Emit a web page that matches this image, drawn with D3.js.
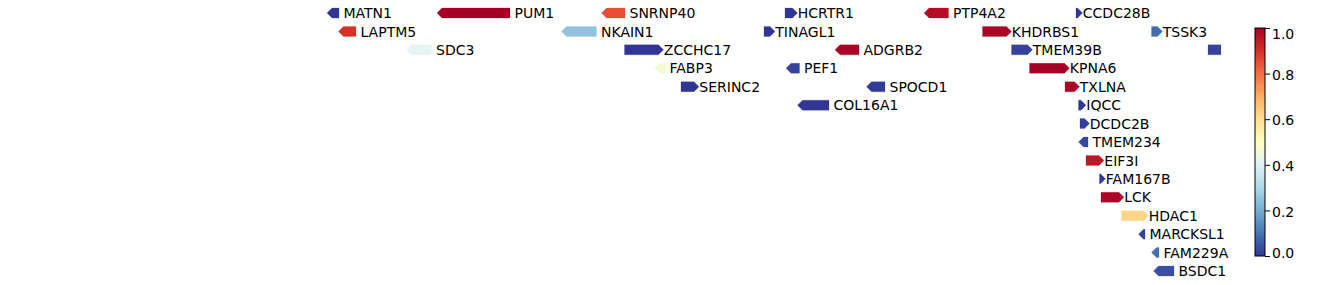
<!DOCTYPE html>
<html>
<head>
<meta charset="utf-8">
<script src="https://cdn.jsdelivr.net/npm/d3@7"></script>
<style>
  html, body { margin: 0; padding: 0; background: #fff; }
  svg { display: block; }
  text { font-family: "DejaVu Sans", sans-serif; }
</style>
</head>
<body>
<svg id="chart" width="1338" height="285"></svg>
<script>
// ---- data (genomic position in kb) ----
const geneNames = ["MATN1","PUM1","SNRNP40","HCRTR1","PTP4A2","CCDC28B",
  "LAPTM5","NKAIN1","TINAGL1","KHDRBS1","TSSK3",
  "SDC3","ZCCHC17","ADGRB2","TMEM39B","",
  "FABP3","PEF1","KPNA6",
  "SERINC2","SPOCD1","TXLNA",
  "COL16A1","IQCC",
  "DCDC2B","TMEM234","EIF3I","FAM167B","LCK","HDAC1","MARCKSL1","FAM229A","BSDC1"];
const geneStart = [31180,31400,31729,32096,32374,32678,
  31203,31649,32054,32491,32829,
  31339,31775,32196,32549,32942,
  31835,32098,32585,
  31888,32259,32656,
  32121,32683,
  32686,32683,32698,32725,32728,32769,32803,32829,32833];
const geneEnd = [31204,31546,31776,32121,32423,32691,
  31238,31719,32076,32549,32851,
  31389,31853,32244,32591,32982,
  31856,32125,32665,
  31924,32296,32685,
  32184,32698,
  32705,32702,32734,32737,32774,32823,32816,32844,32874];
const geneStrand = ["-","-","-","+","-","+",
  "-","-","+","+","+",
  "-","+","-","+","+",
  "-","-","+",
  "+","-","+",
  "-","+",
  "+","-","+","+","+","+","-","-","-"];
const geneRow = [0,0,0,0,0,0,
  1,1,1,1,1,
  2,2,2,2,2,
  3,3,3,
  4,4,4,
  5,5,
  6,7,8,9,10,11,12,13,14];
const geneValue = [0.0,1.0,0.85,0.0,0.97,0.0,
  0.9,0.25,0.0,0.99,0.085,
  0.41,0.0,0.99,0.02,0.02,
  0.46,0.02,1.0,
  0.0,0.01,0.99,
  0.0,0.0,
  0.01,0.03,0.95,0.0,0.99,0.62,0.02,0.09,0.04];
const colorbarTicks = [0.0,0.2,0.4,0.6,0.8,1.0];

// ---- colormap (RdYlBu reversed, matplotlib stops) ----
const cmapStops = ["#313695","#4575b4","#74add1","#abd9e9","#e0f3f8","#ffffbf",
  "#fee090","#fdae61","#f46d43","#d73027","#a50026"];
const color = d3.scaleLinear()
  .domain(d3.range(cmapStops.length).map(i => i / (cmapStops.length - 1)))
  .range(cmapStops)
  .interpolate(d3.interpolateRgb)
  .clamp(true);

const svg = d3.select("#chart");
const x = d3.scaleLinear().domain([31180, 32968]).range([327, 1221]);
const y = d3.scaleLinear().domain([0, 14]).range([13, 271]);
const H = 10, HEAD = 5, FS = 14;

svg.append("defs").append("clipPath").attr("id", "axclip")
  .append("rect").attr("x", 0).attr("y", 0).attr("width", 1221).attr("height", 285);

const genes = geneNames.map((n, i) => ({
  name: n, start: geneStart[i], end: geneEnd[i], strand: geneStrand[i],
  row: geneRow[i], value: geneValue[i]
}));

const g = svg.append("g").attr("clip-path", "url(#axclip)");

function arrowPath(d) {
  const x0 = x(d.start), x1 = x(d.end), yc = y(d.row);
  const hl = Math.min(HEAD, x1 - x0);
  const t = yc - H / 2, b = yc + H / 2;
  let pts;
  if (d.strand === "+") {
    pts = [[x0, t], [x1 - hl, t], [x1, yc], [x1 - hl, b], [x0, b]];
  } else {
    pts = [[x1, t], [x0 + hl, t], [x0, yc], [x0 + hl, b], [x1, b]];
  }
  return "M" + pts.map(p => p.join(",")).join("L") + "Z";
}

g.selectAll("path.gene").data(genes).join("path")
  .attr("class", "gene")
  .attr("d", arrowPath)
  .attr("fill", d => color(d.value))
  .attr("stroke", d => color(d.value))
  .attr("stroke-opacity", 0.4)
  .attr("stroke-width", 0.6);

svg.append("g").selectAll("text.lab").data(genes.filter(d => d.name)).join("text")
  .attr("class", "lab")
  .attr("x", d => x(d.end) + (d.strand === "+" ? 0.3 : 4.5))
  .attr("y", d => y(d.row) + 5.1)
  .attr("font-size", FS)
  .attr("fill", "#000")
  .text(d => d.name);

// ---- colorbar ----
const cbX = 1255, cbW = 10, cbTop = 28, cbBot = 256;
const cy = d3.scaleLinear().domain([0, 1]).range([cbBot, cbTop]);
const grad = svg.select("defs").append("linearGradient")
  .attr("id", "cbgrad").attr("x1", 0).attr("y1", 1).attr("x2", 0).attr("y2", 0);
grad.selectAll("stop").data(d3.range(0, 1.0001, 0.02)).join("stop")
  .attr("offset", d => d).attr("stop-color", d => color(d));
svg.append("rect").attr("x", cbX).attr("y", cbTop).attr("width", cbW)
  .attr("height", cbBot - cbTop).attr("fill", "url(#cbgrad)");
svg.append("rect").attr("x", cbX).attr("y", cbTop).attr("width", cbW)
  .attr("height", cbBot - cbTop).attr("fill", "none")
  .attr("stroke", "#000").attr("stroke-width", 1);

const axis = svg.append("g").attr("transform", `translate(${cbX + cbW},0)`)
  .call(d3.axisRight(cy).tickValues(colorbarTicks).tickFormat(d3.format(".1f"))
    .tickSize(5).tickPadding(2));
axis.select(".domain").remove();
axis.selectAll(".tick line").attr("stroke", "#000");
axis.selectAll(".tick text")
  .attr("font-size", FS).attr("fill", "#000")
  .attr("font-family", "DejaVu Sans, sans-serif")
  .attr("dy", d => d === 1 ? "0.78em" : d === 0 ? "0.08em" : "0.4em");
</script>
</body>
</html>
